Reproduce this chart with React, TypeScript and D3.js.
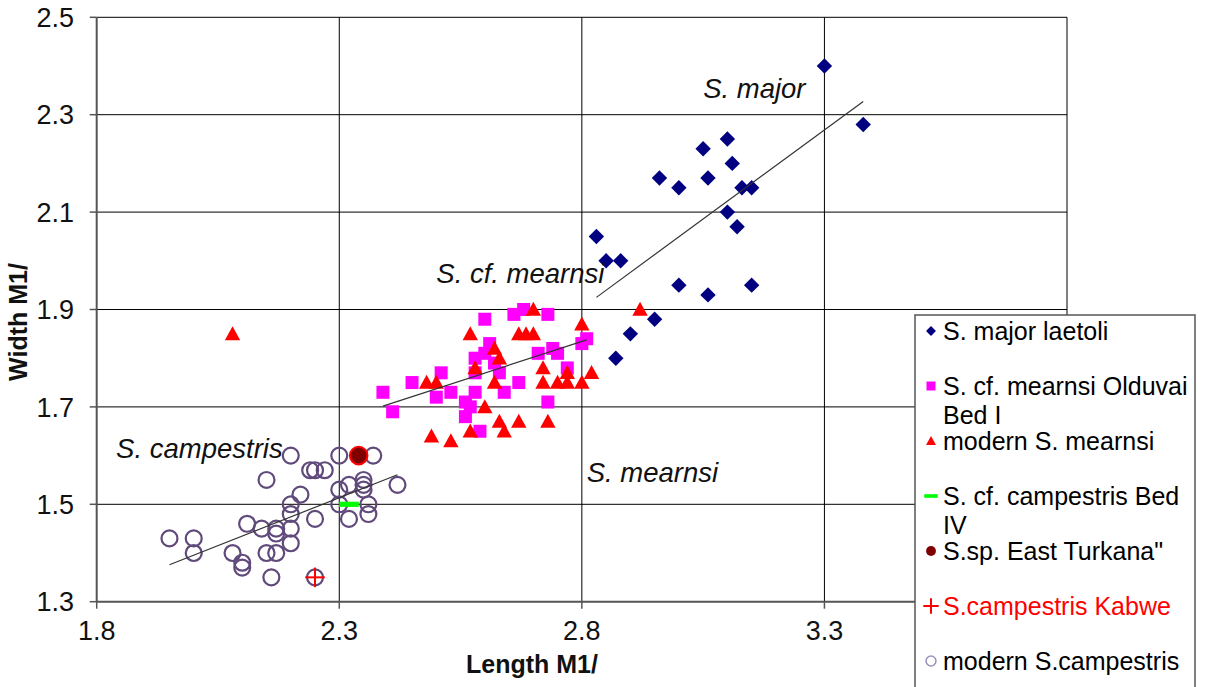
import React from "react";
import * as d3 from "d3";

type Pt = [number, number];

// ---- data (Length M1/, Width M1/) ----
const majorLaetoli: Pt[] = [
  [3.30, 2.40], [3.38, 2.28], [3.10, 2.25], [3.05, 2.23], [3.11, 2.20],
  [2.96, 2.17], [3.00, 2.15], [3.06, 2.17], [3.13, 2.15], [3.15, 2.15],
  [3.10, 2.10], [3.12, 2.07], [2.83, 2.05], [2.85, 2.00], [2.88, 2.00],
  [3.00, 1.95], [3.06, 1.93], [3.15, 1.95], [2.95, 1.88], [2.90, 1.85],
  [2.87, 1.80],
];

const olduvaiMearnsi: Pt[] = [
  [2.39, 1.73], [2.41, 1.69], [2.45, 1.75], [2.51, 1.77], [2.50, 1.72],
  [2.53, 1.73], [2.56, 1.71], [2.56, 1.68], [2.58, 1.80], [2.58, 1.77],
  [2.58, 1.73], [2.59, 1.65], [2.60, 1.88], [2.60, 1.81], [2.61, 1.83],
  [2.62, 1.79], [2.63, 1.77], [2.64, 1.73], [2.67, 1.75], [2.66, 1.89],
  [2.68, 1.90], [2.73, 1.89], [2.71, 1.81], [2.74, 1.82], [2.75, 1.81],
  [2.77, 1.78], [2.73, 1.71], [2.80, 1.83], [2.81, 1.84], [2.57, 1.70],
];

const modernMearnsi: Pt[] = [
  [2.08, 1.85], [2.57, 1.85], [2.48, 1.75], [2.50, 1.75], [2.58, 1.78],
  [2.60, 1.70], [2.57, 1.65], [2.49, 1.64], [2.53, 1.63], [2.70, 1.90],
  [2.67, 1.85], [2.685, 1.85], [2.70, 1.85], [2.62, 1.82], [2.63, 1.80],
  [2.62, 1.75], [2.72, 1.78], [2.72, 1.75], [2.75, 1.75], [2.77, 1.77],
  [2.77, 1.75], [2.80, 1.87], [2.80, 1.75], [2.82, 1.77], [2.63, 1.67],
  [2.64, 1.65], [2.67, 1.67], [2.73, 1.67], [2.92, 1.90],
];

const bedIVCampestris: Pt[] = [[2.32, 1.50]];
const eastTurkana: Pt[] = [[2.34, 1.60]];
const kabweCampestris: Pt[] = [[2.25, 1.35]];

const modernCampestris: Pt[] = [
  [1.95, 1.43], [2.00, 1.43], [2.00, 1.40], [2.08, 1.40], [2.10, 1.38],
  [2.10, 1.37], [2.11, 1.46], [2.14, 1.45], [2.15, 1.55], [2.15, 1.40],
  [2.16, 1.35], [2.17, 1.45], [2.17, 1.44], [2.17, 1.40], [2.20, 1.60],
  [2.20, 1.50], [2.20, 1.48], [2.20, 1.45], [2.20, 1.42], [2.22, 1.52],
  [2.24, 1.57], [2.25, 1.57], [2.27, 1.57], [2.25, 1.47], [2.25, 1.35],
  [2.30, 1.60], [2.30, 1.53], [2.30, 1.50], [2.32, 1.54], [2.32, 1.47],
  [2.35, 1.55], [2.35, 1.54], [2.35, 1.53], [2.36, 1.50], [2.36, 1.48],
  [2.37, 1.60], [2.42, 1.54],
];

const xTicks = [1.8, 2.3, 2.8, 3.3];
const yTicks = [1.3, 1.5, 1.7, 1.9, 2.1, 2.3, 2.5];

const legendItems = [
  { key: "major", lines: ["S. major laetoli"], color: "#000" },
  { key: "olduvai", lines: ["S. cf. mearnsi Olduvai", "Bed I"], color: "#000" },
  { key: "modern", lines: ["modern S. mearnsi"], color: "#000" },
  { key: "bed4", lines: ["S. cf. campestris Bed", "IV"], color: "#000" },
  { key: "turkana", lines: ['S.sp. East Turkana"'], color: "#000" },
  { key: "kabwe", lines: ["S.campestris Kabwe"], color: "#FF0000" },
  { key: "campestris", lines: ["modern S.campestris"], color: "#000" },
];

const annotations = [
  { text: "S. major", x: 3.05, y: 2.335 },
  { text: "S. cf. mearnsi", x: 2.50, y: 1.955 },
  { text: "S. campestris", x: 1.84, y: 1.595 },
  { text: "S. mearnsi", x: 2.81, y: 1.545 },
];

const W = 1208;
const H = 687;
const margin = { left: 96.7, right: 1067, top: 17.3, bottom: 601.7 };
const FONT = "'Liberation Sans', Arial, sans-serif";

// least squares fit over the series' x extent (Excel style linear trendline)
function trend(pts: Pt[]) {
  const mx = d3.mean(pts, (d) => d[0])!;
  const my = d3.mean(pts, (d) => d[1])!;
  let sxy = 0, sxx = 0;
  pts.forEach(([a, b]) => { sxy += (a - mx) * (b - my); sxx += (a - mx) * (a - mx); });
  const k = sxy / sxx;
  const [x0, x1] = d3.extent(pts, (d) => d[0]) as [number, number];
  return [[x0, my + k * (x0 - mx)], [x1, my + k * (x1 - mx)]] as Pt[];
}

function marker(kind: string, cx: number, cy: number, s: number, k: string | number) {
  switch (kind) {
    case "major":
      return <path key={k} d={`M${cx},${cy - s * 0.55}L${cx + s * 0.55},${cy}L${cx},${cy + s * 0.55}L${cx - s * 0.55},${cy}Z`} fill="#000080" />;
    case "olduvai":
      return <rect key={k} x={cx - s / 2} y={cy - s / 2} width={s} height={s} fill="#FF00FF" />;
    case "modern":
      return <path key={k} d={`M${cx},${cy - s * 0.55}L${cx + s * 0.55},${cy + s * 0.45}L${cx - s * 0.55},${cy + s * 0.45}Z`} fill="#FF0000" />;
    case "bed4":
      return <rect key={k} x={cx - s * 0.75} y={cy - s * 0.2} width={s * 1.5} height={s * 0.4} fill="#00FF00" />;
    case "turkana":
      return <circle key={k} cx={cx} cy={cy} r={s * 0.55} fill="#800000" stroke="#FF0000" strokeWidth={s > 10 ? 2 : 0} />;
    case "kabwe":
      return (
        <g key={k} stroke="#FF0000" strokeWidth={2}>
          <line x1={cx - s * 0.7} x2={cx + s * 0.7} y1={cy} y2={cy} />
          <line x1={cx} x2={cx} y1={cy - s * 0.7} y2={cy + s * 0.7} />
        </g>
      );
    default:
      return <circle key={k} cx={cx} cy={cy} r={s * 0.55} fill="none" stroke={s > 10 ? "#604A7B" : "#9A8FBE"} strokeWidth={s > 10 ? 2.2 : 1.5} />;
  }
}

export default function App() {
  const x = d3.scaleLinear().domain([1.8, 3.8]).range([margin.left, margin.right]);
  const y = d3.scaleLinear().domain([1.3, 2.5]).range([margin.bottom, margin.top]);
  const line = d3.line<Pt>().x((d) => x(d[0])).y((d) => y(d[1]));

  const series: { kind: string; data: Pt[]; size: number }[] = [
    { kind: "campestris", data: modernCampestris, size: 14.5 },
    { kind: "major", data: majorLaetoli, size: 14 },
    { kind: "olduvai", data: olduvaiMearnsi, size: 13 },
    { kind: "modern", data: modernMearnsi, size: 14 },
    { kind: "bed4", data: bedIVCampestris, size: 13 },
    { kind: "turkana", data: eastTurkana, size: 16 },
    { kind: "kabwe", data: kabweCampestris, size: 14 },
  ];

  const trends = [trend(majorLaetoli), trend(olduvaiMearnsi), trend(modernCampestris)];
  const gridX = [2.3, 2.8, 3.3, 3.8];
  const gridY = yTicks.filter((t) => t > 1.3);

  const legendLeft = 915;
  const legendTop = 315;

  return (
    <div style={{ position: "absolute", left: 0, top: 0 }}>
      <svg width={W} height={H} style={{ display: "block", background: "#fff" }} fontFamily={FONT}>
        {/* grid */}
        {gridY.map((t) => (
          <line key={"gy" + t} x1={x(1.8)} x2={x(3.8)} y1={y(t)} y2={y(t)} stroke="#000" strokeWidth={1} />
        ))}
        {gridX.map((t) => (
          <line key={"gx" + t} x1={x(t)} x2={x(t)} y1={y(2.5)} y2={y(1.3)} stroke="#000" strokeWidth={1} />
        ))}

        {/* axes */}
        <line x1={x(1.8)} x2={x(1.8)} y1={y(2.5)} y2={y(1.3)} stroke="#555" strokeWidth={2} />
        <line x1={x(1.8)} x2={x(3.8)} y1={y(1.3)} y2={y(1.3)} stroke="#555" strokeWidth={2} />
        {yTicks.map((t) => (
          <g key={"yt" + t}>
            <line x1={x(1.8) - 7} x2={x(1.8)} y1={y(t)} y2={y(t)} stroke="#555" strokeWidth={1.5} />
            <text x={74} y={y(t)} dy="0.36em" textAnchor="end" fontSize={27} fill="#111">
              {d3.format(".1f")(t)}
            </text>
          </g>
        ))}
        {xTicks.map((t) => (
          <g key={"xt" + t}>
            <line x1={x(t)} x2={x(t)} y1={y(1.3)} y2={y(1.3) + 7} stroke="#555" strokeWidth={1.5} />
            <text x={x(t)} y={640} textAnchor="middle" fontSize={27} fill="#111">
              {d3.format(".1f")(t)}
            </text>
          </g>
        ))}
        <text x={532} y={673} textAnchor="middle" fontSize={25} fontWeight="bold" fill="#111">
          Length M1/
        </text>
        <text transform="translate(27,322) rotate(-90)" textAnchor="middle" fontSize={25} fontWeight="bold" fill="#111">
          Width M1/
        </text>

        {/* points */}
        {series.map((s) => (
          <g key={s.kind}>{s.data.map((d, i) => marker(s.kind, x(d[0]), y(d[1]), s.size, i))}</g>
        ))}

        {/* trendlines */}
        {trends.map((t, i) => (
          <path key={"tr" + i} d={line(t) ?? ""} fill="none" stroke="#333" strokeWidth={1.2} />
        ))}

        {/* annotations */}
        {annotations.map((a) => (
          <text key={a.text} x={x(a.x)} y={y(a.y)} fontSize={27.5} fontStyle="italic" fill="#111">
            {a.text}
          </text>
        ))}

        {/* legend */}
        <rect x={legendLeft} y={legendTop} width={280} height={H} fill="#fff" stroke="#555" strokeWidth={1.5} />
        {legendItems.map((it, i) => {
          const cy = legendTop + 16 + i * 55;
          return (
            <g key={it.key}>
              {marker(it.key, legendLeft + 16, cy, it.key === "kabwe" ? 11 : 9, "m")}
              {it.lines.map((ln, j) => (
                <text key={j} x={legendLeft + 28} y={cy + j * 29} dy="0.36em" fontSize={25} fill={it.color}>
                  {ln}
                </text>
              ))}
            </g>
          );
        })}
      </svg>
    </div>
  );
}
